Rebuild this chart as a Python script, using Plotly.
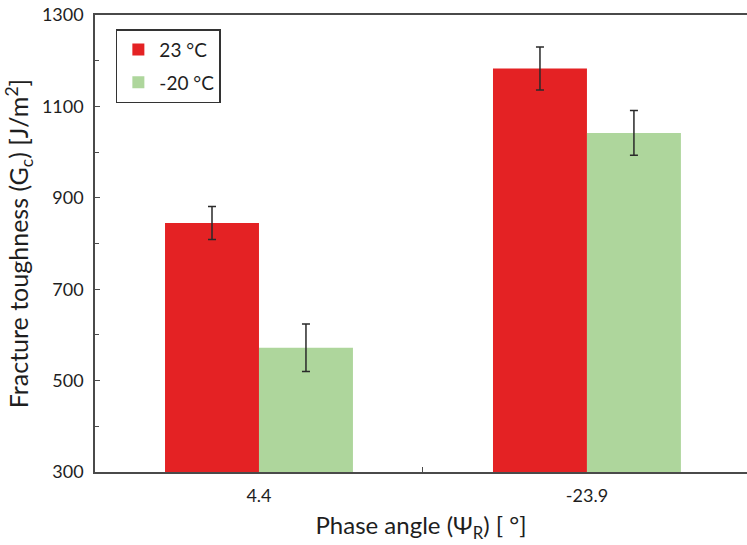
import plotly.graph_objects as go

# Phase angle categories and fracture toughness values (J/m^2)
phase_angles = ["4.4", "-23.9"]
gc_23C = [845, 1183]
gc_23C_err = [36, 47]
gc_m20C = [572, 1042]
gc_m20C_err = [52, 49]

FONT = "Lato, Open Sans, sans-serif"
AXIS_COLOR = "#4a4a4a"
TEXT_COLOR = "#1e1e1e"

fig = go.Figure()
fig.add_trace(go.Bar(
    x=phase_angles, y=gc_23C, name="23 °C", legendgroup="a",
    marker=dict(color="#e42224", line=dict(width=0)),
    error_y=dict(type="data", array=gc_23C_err, color="#2a2a2a", thickness=1.5, width=4),
))
fig.add_trace(go.Bar(
    x=phase_angles, y=gc_m20C, name="-20 °C", legendgroup="b",
    marker=dict(color="#aed69c", line=dict(width=0)),
    error_y=dict(type="data", array=gc_m20C_err, color="#2a2a2a", thickness=1.5, width=4),
))

fig.update_layout(
    width=747, height=545,
    margin=dict(l=95, r=0, t=15, b=73),
    plot_bgcolor="white", paper_bgcolor="white",
    barmode="group", bargap=0.427, bargroupgap=0,
    font=dict(family=FONT, size=18, color=TEXT_COLOR),
    showlegend=True,
    legend=dict(
        x=0.032, y=0.969, xanchor="left", yanchor="top",
        bordercolor="#333", borderwidth=1.5, bgcolor="white",
        font=dict(size=19, family=FONT, color=TEXT_COLOR),
        traceorder="grouped", tracegroupgap=5,
        itemwidth=32,
    ),
    xaxis=dict(
        type="category", range=[-0.5, 1.488],
        showline=True, linecolor=AXIS_COLOR, linewidth=1.5, mirror=True,
        ticks="inside", ticklen=5, tickcolor=AXIS_COLOR, tickson="boundaries",
        ticklabelstandoff=7,
        tickfont=dict(size=18, family=FONT, color=TEXT_COLOR),
        title=dict(text="Phase angle (Ψ<sub>R</sub>) [ °]", font=dict(size=24, family=FONT, color=TEXT_COLOR), standoff=12),
        showgrid=False, zeroline=False,
    ),
    yaxis=dict(
        range=[300, 1300], dtick=200, tick0=300,
        showline=True, linecolor=AXIS_COLOR, linewidth=1.5,
        ticks="inside", ticklen=5, tickcolor=AXIS_COLOR,
        minor=dict(dtick=100, ticks="inside", ticklen=4, tickcolor=AXIS_COLOR, showgrid=False),
        ticklabelstandoff=6,
        tickfont=dict(size=18, family=FONT, color=TEXT_COLOR),
        title=dict(text="Fracture toughness (G<sub>c</sub>) [J/m<sup>2</sup>]", font=dict(size=25, family=FONT, color=TEXT_COLOR), standoff=6),
        showgrid=False, zeroline=False,
    ),
)

fig.write_html("out.html")
